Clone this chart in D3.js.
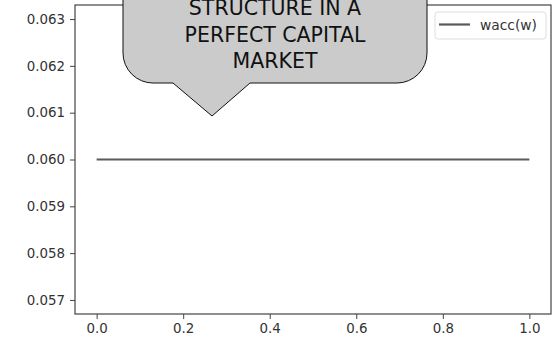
<!DOCTYPE html>
<html>
<head>
<meta charset="utf-8">
<script src="https://cdn.jsdelivr.net/npm/d3@7"></script>
<style>
  html, body { margin: 0; padding: 0; background: #fff; }
  svg { display: block; }
  text { font-family: "DejaVu Sans", sans-serif; }
</style>
</head>
<body>
<script>
// Weighted average cost of capital as a function of the debt weight w
const debtWeights = [0.0, 0.25, 0.5, 0.75, 1.0];
const waccValues = [0.06, 0.06, 0.06, 0.06, 0.06];
const seriesName = "wacc(w)";
const xTicks = [0.0, 0.2, 0.4, 0.6, 0.8, 1.0];
const yTicks = [0.057, 0.058, 0.059, 0.060, 0.061, 0.062, 0.063];
const calloutLines = ["STRUCTURE IN A", "PERFECT CAPITAL", "MARKET"];

const W = 555, H = 341;
const plot = { left: 75, right: 551, top: 5, bottom: 314 };

const svg = d3.select("body").append("svg")
  .attr("width", W).attr("height", H);

const x = d3.scaleLinear().domain([-0.05, 1.05]).range([plot.left, plot.right]);
const y = d3.scaleLinear().domain([0.0567, 0.0633]).range([plot.bottom, plot.top]);

const axisColor = "#444";
const labelColor = "#333";

// Axes
const xAxis = svg.append("g")
  .attr("transform", `translate(0,${plot.bottom})`)
  .call(d3.axisBottom(x).tickValues(xTicks).tickFormat(d3.format(".1f")).tickSize(5).tickPadding(4));
const yAxis = svg.append("g")
  .attr("transform", `translate(${plot.left},0)`)
  .call(d3.axisLeft(y).tickValues(yTicks).tickFormat(d3.format(".3f")).tickSize(5).tickPadding(5));

[xAxis, yAxis].forEach(g => {
  g.select(".domain").remove();
  g.selectAll(".tick line").attr("stroke", axisColor).attr("stroke-width", 1);
  g.selectAll(".tick text").attr("fill", labelColor).style("font-size", "13.4px")
    .style("font-family", "'DejaVu Sans', sans-serif");
});

// Plot frame
svg.append("rect")
  .attr("x", plot.left).attr("y", plot.top)
  .attr("width", plot.right - plot.left).attr("height", plot.bottom - plot.top)
  .attr("fill", "none").attr("stroke", axisColor).attr("stroke-width", 1.2);

// Series line
const line = d3.line().x((d, i) => x(debtWeights[i])).y(d => y(d));
svg.append("path")
  .datum(waccValues)
  .attr("d", line)
  .attr("fill", "none")
  .attr("stroke", "#5a5a5a")
  .attr("stroke-width", 2.2);

// Legend
const legend = svg.append("g");
legend.append("rect")
  .attr("x", 435).attr("y", 12).attr("width", 111).attr("height", 27)
  .attr("rx", 3).attr("fill", "#fff").attr("stroke", "#ddd").attr("stroke-width", 1);
legend.append("line")
  .attr("x1", 439).attr("x2", 470).attr("y1", 24.5).attr("y2", 24.5)
  .attr("stroke", "#5a5a5a").attr("stroke-width", 2.2);
legend.append("text")
  .attr("x", 480).attr("y", 30)
  .attr("fill", labelColor).style("font-size", "13.8px")
  .text(seriesName);

// Speech-bubble callout
const cb = { left: 123, right: 427, top: -80, bottom: 83, r: 30,
             tipL: 173, tipR: 250, tipX: 212, tipY: 116 };
const p = d3.path();
p.moveTo(cb.left, cb.top);
p.lineTo(cb.right, cb.top);
p.lineTo(cb.right, cb.bottom - cb.r);
p.arcTo(cb.right, cb.bottom, cb.right - cb.r, cb.bottom, cb.r);
p.lineTo(cb.tipR, cb.bottom);
p.lineTo(cb.tipX, cb.tipY);
p.lineTo(cb.tipL, cb.bottom);
p.lineTo(cb.left + cb.r, cb.bottom);
p.arcTo(cb.left, cb.bottom, cb.left, cb.bottom - cb.r, cb.r);
p.closePath();
svg.append("path")
  .attr("d", p.toString())
  .attr("fill", "#cbcbcb")
  .attr("stroke", "#111")
  .attr("stroke-width", 1);

svg.append("g").selectAll("text")
  .data(calloutLines)
  .join("text")
  .attr("x", 275)
  .attr("y", (d, i) => 15 + i * 26.7)
  .attr("text-anchor", "middle")
  .attr("fill", "#111")
  .style("font-size", "20.5px")
  .text(d => d);
</script>
</body>
</html>
